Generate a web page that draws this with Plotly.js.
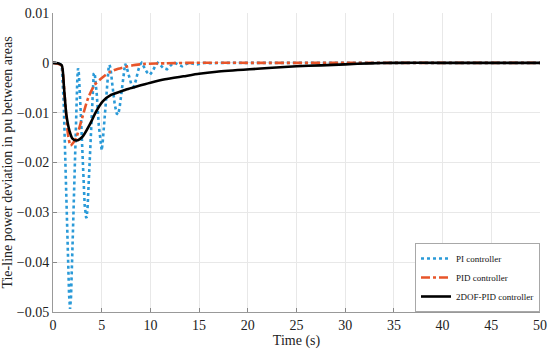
<!DOCTYPE html>
<html>
<head>
<meta charset="utf-8">
<script src="https://cdn.plot.ly/plotly-3.0.1.min.js"></script>
<style>html,body{margin:0;padding:0;background:#fff;}#chart{width:550px;height:352px;}</style>
</head>
<body>
<div id="chart"></div>
<script>
// PI controller (dotted, oscillatory)
var piT = [0,0.5,0.9,1.1,1.3,1.5,1.65,1.75,1.85,2.0,2.2,2.4,2.5,2.57,2.65,2.85,3.05,3.25,3.4,3.45,3.55,3.75,3.95,4.1,4.18,4.28,4.5,4.7,4.9,5.0,5.1,5.3,5.5,5.7,5.8,5.9,6.1,6.35,6.55,6.7,6.85,7.05,7.25,7.4,7.55,7.8,8.05,8.3,8.5,8.75,8.95,9.1,9.35,9.65,9.95,10.25,10.55,10.75,11.05,11.35,11.7,12.0,12.3,12.5,12.9,13.25,13.6,14.0,14.4,14.8,15.2,15.6,16.4,17.2,20,25,30,35,40,45,50];
var piY = [0,0,-0.0005,-0.008,-0.022,-0.037,-0.0465,-0.0494,-0.047,-0.037,-0.022,-0.008,-0.003,-0.0011,-0.002,-0.010,-0.020,-0.0285,-0.031,-0.0311,-0.029,-0.020,-0.010,-0.0035,-0.0022,-0.002,-0.0065,-0.0125,-0.0168,-0.0176,-0.016,-0.0105,-0.005,-0.0012,-0.0004,-0.001,-0.0045,-0.0085,-0.0102,-0.0104,-0.0088,-0.0055,-0.002,-0.0002,-0.0008,-0.0028,-0.0044,-0.0048,-0.0036,-0.0015,-0.0003,0,-0.0008,-0.0019,-0.0024,-0.0016,-0.0004,0,-0.0005,-0.0011,-0.0013,-0.0007,-0.0001,0,-0.0004,-0.0007,-0.0003,0,-0.0002,-0.0003,-0.0001,0,-0.0001,0,0,0,0,0,0,0,0];

// PID controller (dash-dot)
var pidT = [0,0.5,0.9,1.03,1.27,1.54,1.8,2.1,2.4,2.9,3.6,4.28,4.8,5.3,5.85,6.7,7.7,8.2,9.5,11.6,14,20,30,40,50];
var pidY = [0,-0.0002,-0.0006,-0.0024,-0.0084,-0.0144,-0.0166,-0.016,-0.015,-0.0117,-0.0071,-0.0044,-0.0034,-0.0026,-0.0018,-0.0012,-0.0007,-0.0005,-0.0002,-0.0001,0,0,0,0,0];

// 2DOF-PID controller (solid)
var dofT = [0,0.5,0.9,1.13,1.37,1.7,2.0,2.4,2.75,3.08,3.77,4.45,5.13,6.0,7.0,7.6,8.5,10,11.5,13.4,15,16.8,20.2,22.5,25,27.5,30,32.5,35,40,45,50];
var dofY = [0,-0.0001,-0.0005,-0.005,-0.0104,-0.0137,-0.0152,-0.0156,-0.0153,-0.0147,-0.0124,-0.0097,-0.0077,-0.0064,-0.0057,-0.0053,-0.0048,-0.004,-0.0033,-0.0027,-0.0022,-0.0018,-0.0013,-0.0010,-0.0007,-0.0005,-0.0003,-0.0001,0,0,0,0];

var seriesNames = ['PI controller','PID controller','2DOF-PID controller'];
var xTicks = [0,5,10,15,20,25,30,35,40,45,50];
var yTicks = [0.01,0,-0.01,-0.02,-0.03,-0.04,-0.05];

var serif = 'Liberation Serif';
var traces = [
  {x: piT, y: piY, name: seriesNames[0], mode: 'lines', line: {color: '#2a9ad8', width: 2.6, dash: 'dot'}},
  {x: pidT, y: pidY, name: seriesNames[1], mode: 'lines', line: {color: '#e8552a', width: 2.6, dash: 'dashdot', shape: 'spline', smoothing: 0.6}},
  {x: dofT, y: dofY, name: seriesNames[2], mode: 'lines', line: {color: '#000000', width: 2.6, shape: 'spline', smoothing: 0.6}}
];
var layout = {
  width: 550, height: 352,
  margin: {l: 53, r: 10, t: 13, b: 40},
  paper_bgcolor: '#ffffff', plot_bgcolor: '#ffffff',
  font: {family: serif, size: 13, color: '#222'},
  showlegend: true,
  legend: {x: 1, y: 0, xanchor: 'right', yanchor: 'bottom', bgcolor: '#ffffff', bordercolor: '#a8a8a8', borderwidth: 1,
           font: {family: serif, size: 9, color: '#111'}, itemwidth: 30, tracegroupgap: 0},
  xaxis: {range: [0, 50], tickvals: xTicks, ticks: 'inside', ticklen: 4, tickcolor: '#888', showline: true, linecolor: '#999', linewidth: 1,
          showgrid: true, gridcolor: '#e8e8e8', zeroline: false, title: {text: 'Time (s)', font: {family: serif, size: 14, color: '#222'}, standoff: 2},
          tickfont: {family: serif, size: 14, color: '#222'}},
  yaxis: {range: [-0.05, 0.01], tickvals: yTicks, ticks: 'inside', ticklen: 4, tickcolor: '#888', showline: true, linecolor: '#999', linewidth: 1,
          showgrid: true, gridcolor: '#e8e8e8', zeroline: false, title: {text: 'Tie-line power deviation in pu between areas', font: {family: serif, size: 14, color: '#222'}, standoff: 4},
          tickfont: {family: serif, size: 14, color: '#222'}}
};
Plotly.newPlot('chart', traces, layout, {displayModeBar: false, staticPlot: true});
</script>
</body>
</html>
